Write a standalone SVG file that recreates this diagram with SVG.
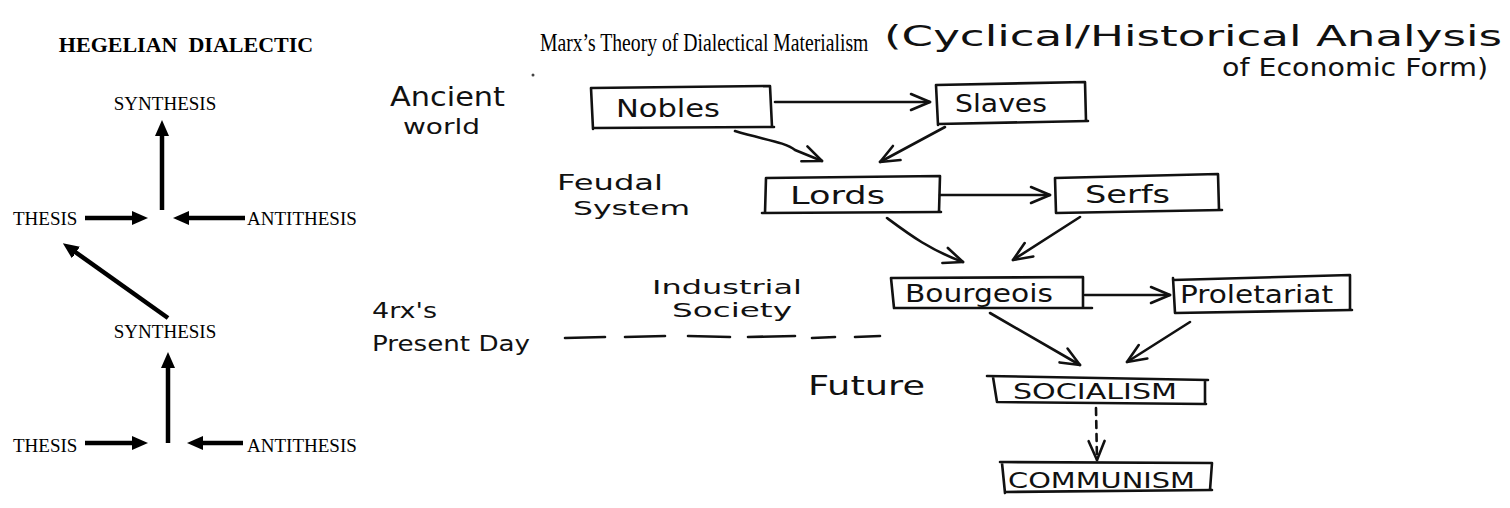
<svg xmlns="http://www.w3.org/2000/svg" width="1510" height="508" viewBox="0 0 1510 508">
<style>
.serif{font-family:"Liberation Serif","Times New Roman",serif;fill:#000}
.lbl{font-size:19px}
.title{font-size:22px;font-weight:bold}
.hand{font-family:"DejaVu Sans","Liberation Sans",sans-serif;fill:#111}
.thick{stroke:#000;stroke-width:4.5;fill:none}
.pen{stroke:#111;stroke-width:2.6;fill:none;stroke-linecap:round;stroke-linejoin:round}
</style>
<defs>
<marker id="solid" markerUnits="userSpaceOnUse" viewBox="0 0 16 14" markerWidth="16" markerHeight="14" refX="6" refY="7" orient="auto">
<path d="M0,0 L16,7 L0,14 z" fill="#000"/>
</marker>
<marker id="open" markerUnits="userSpaceOnUse" viewBox="0 0 24 18" markerWidth="24" markerHeight="18" refX="22" refY="9" orient="auto" overflow="visible">
<path d="M3,1 L22,9 L3,17" fill="none" stroke="#111" stroke-width="2.6" stroke-linecap="round" stroke-linejoin="round"/>
</marker>
</defs>
<rect width="1510" height="508" fill="#fff"/>

<!-- LEFT: Hegelian dialectic -->
<g id="hegel-title"><text class="serif title" x="186" y="52" text-anchor="middle" xml:space="preserve">HEGELIAN  DIALECTIC</text></g>
<g id="synthesis-1"><text class="serif lbl" x="165" y="110" text-anchor="middle">SYNTHESIS</text></g>
<g id="thesis-1"><text class="serif lbl" x="13" y="225">THESIS</text></g>
<g id="antithesis-1"><text class="serif lbl" x="247" y="225">ANTITHESIS</text></g>
<g id="synthesis-2"><text class="serif lbl" x="165" y="338" text-anchor="middle">SYNTHESIS</text></g>
<g id="thesis-2"><text class="serif lbl" x="13" y="452">THESIS</text></g>
<g id="antithesis-2"><text class="serif lbl" x="247" y="452">ANTITHESIS</text></g>

<g id="hegel-connectors">
<line class="thick" x1="85" y1="218" x2="138" y2="218" marker-end="url(#solid)"/>
<line class="thick" x1="245" y1="218" x2="183" y2="218" marker-end="url(#solid)"/>
<line class="thick" x1="162" y1="210" x2="162" y2="130" marker-end="url(#solid)"/>
<line class="thick" x1="168" y1="318" x2="71" y2="249" marker-end="url(#solid)"/>
<line class="thick" x1="85" y1="443" x2="138" y2="443" marker-end="url(#solid)"/>
<line class="thick" x1="243" y1="443" x2="197" y2="443" marker-end="url(#solid)"/>
<line class="thick" x1="168" y1="443" x2="168" y2="362" marker-end="url(#solid)"/>
</g>

<!-- RIGHT: Marx -->
<g id="marx-title">
<text class="serif" font-size="25" transform="translate(540,51) scale(0.787,1)">Marx’s Theory of Dialectical Materialism</text>
<text class="hand" x="884" y="46" font-size="29" textLength="618" lengthAdjust="spacingAndGlyphs">(Cyclical/Historical Analysis</text>
<text class="hand" x="1222" y="76" font-size="25" textLength="266" lengthAdjust="spacingAndGlyphs">of Economic Form)</text>
</g>
<circle cx="533" cy="75" r="1.5" fill="#444"/>

<g id="era-ancient"><text class="hand" x="390" y="106" font-size="26" textLength="115" lengthAdjust="spacingAndGlyphs">Ancient</text><text class="hand" x="403" y="134" font-size="22" textLength="77" lengthAdjust="spacingAndGlyphs">world</text></g>
<g id="era-feudal"><text class="hand" x="557" y="190" font-size="22" textLength="106" lengthAdjust="spacingAndGlyphs">Feudal</text><text class="hand" x="573" y="215" font-size="19" textLength="117" lengthAdjust="spacingAndGlyphs">System</text></g>
<g id="era-industrial"><text class="hand" x="652" y="294" font-size="20" textLength="150" lengthAdjust="spacingAndGlyphs">Industrial</text><text class="hand" x="672" y="317" font-size="19" textLength="120" lengthAdjust="spacingAndGlyphs">Society</text></g>
<g id="era-present"><text class="hand" x="372" y="318" font-size="21" textLength="65" lengthAdjust="spacingAndGlyphs">4rx's</text><text class="hand" x="372" y="351" font-size="21" textLength="158" lengthAdjust="spacingAndGlyphs">Present Day</text></g>
<g id="era-future"><text class="hand" x="808" y="395" font-size="27" textLength="117" lengthAdjust="spacingAndGlyphs">Future</text></g>

<g id="nobles"><path class="pen" d="M591,88 L770,86 M770,86 L772,127 M593,128 L774,127 M591,88 L593,129"/><text class="hand" x="616" y="117" font-size="25" textLength="104" lengthAdjust="spacingAndGlyphs">Nobles</text></g>
<g id="slaves"><path class="pen" d="M936,85 L1085,82 L1086,121 M938,124 L1088,121 M936,85 L938,125"/><text class="hand" x="955" y="112" font-size="24" textLength="92" lengthAdjust="spacingAndGlyphs">Slaves</text></g>
<g id="lords"><path class="pen" d="M766,178 L940,176 L939,212 M762,213 L941,212 M766,178 L765,213"/><text class="hand" x="790" y="204" font-size="25" textLength="95" lengthAdjust="spacingAndGlyphs">Lords</text></g>
<g id="serfs"><path class="pen" d="M1055,178 L1218,174 L1219,210 M1056,213 L1222,210 M1055,178 L1056,213"/><text class="hand" x="1085" y="203" font-size="24" textLength="85" lengthAdjust="spacingAndGlyphs">Serfs</text></g>
<g id="bourgeois"><path class="pen" d="M891,278 L1083,277 L1083,308 M894,308 L1092,308 M891,278 L894,308"/><text class="hand" x="905" y="302" font-size="24" textLength="148" lengthAdjust="spacingAndGlyphs">Bourgeois</text></g>
<g id="proletariat"><path class="pen" d="M1173,280 L1350,275 L1350,310 M1175,313 L1352,310 M1173,278 L1175,313"/><text class="hand" x="1180" y="303" font-size="24" textLength="153" lengthAdjust="spacingAndGlyphs">Proletariat</text></g>
<g id="socialism"><path class="pen" d="M987,376 L1208,380 M1205,380 L1205,404 M997,402 L1206,404 M993,377 L997,402"/><text class="hand" x="1013" y="399" font-size="21" textLength="164" lengthAdjust="spacingAndGlyphs">SOCIALISM</text></g>
<g id="communism"><path class="pen" d="M1000,462 L1212,463 L1210,490 M1005,492 L1212,490 M1002,463 L1005,493"/><text class="hand" x="1008" y="488" font-size="22" textLength="187" lengthAdjust="spacingAndGlyphs">COMMUNISM</text></g>

<g id="marx-connectors">
<line class="pen" x1="775" y1="102" x2="930" y2="102" marker-end="url(#open)"/>
<path class="pen" d="M735,131 C765,140 785,142 795,150 L822,161" marker-end="url(#open)"/>
<line class="pen" x1="945" y1="127" x2="880" y2="162" marker-end="url(#open)"/>
<line class="pen" x1="940" y1="195" x2="1050" y2="195" marker-end="url(#open)"/>
<path class="pen" d="M887,218 C910,235 930,250 963,262" marker-end="url(#open)"/>
<line class="pen" x1="1080" y1="217" x2="1013" y2="260" marker-end="url(#open)"/>
<line class="pen" x1="1085" y1="295" x2="1170" y2="295" marker-end="url(#open)"/>
<line class="pen" x1="990" y1="313" x2="1080" y2="365" marker-end="url(#open)"/>
<line class="pen" x1="1190" y1="322" x2="1127" y2="362" marker-end="url(#open)"/>
<line class="pen" x1="1096" y1="408" x2="1097" y2="460" stroke-dasharray="7 6" marker-end="url(#open)"/>
<path class="pen" d="M565,338 L605,337 M625,337 L665,336 M688,336 L730,337 M748,337 L795,336 M812,338 L835,337 M855,337 L880,336"/>
</g>
</svg>
